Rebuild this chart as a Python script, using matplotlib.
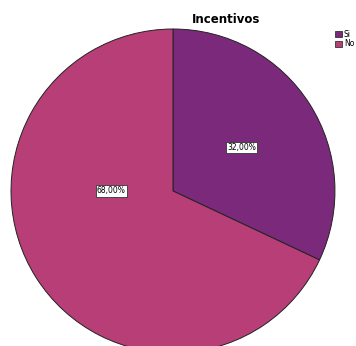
import matplotlib.pyplot as plt
from matplotlib.patches import Patch

# datos
labels = ['Si', 'No']
values = [32.0, 68.0]
colors = ['#7B2A7B', '#B83E78']
title = 'Incentivos'

fig = plt.figure(figsize=(3.56, 3.46), dpi=100)
ax = fig.add_axes([0, 0, 1, 1])

wedges, texts, autotexts = ax.pie(
    values, colors=colors, startangle=90, counterclock=False,
    autopct=lambda p: f'{p:.2f}%'.replace('.', ','), pctdistance=0.5,
    wedgeprops=dict(edgecolor='#222222', linewidth=0.7),
    textprops=dict(fontsize=5.5))

for t in autotexts:
    t.set_bbox(dict(facecolor='white', edgecolor='#333333', linewidth=0.6, pad=1.0))
# SPSS pone la etiqueta de "No" a la altura del centro
autotexts[1].set_position((-0.38, 0.0))

ax.set_xlim(-1.068, 1.130)
ax.set_ylim(-0.957, 1.179)
ax.set_aspect('equal')
ax.axis('off')

fig.text(0.635, 0.945, title, ha='center', va='center', fontsize=8.5, fontweight='bold')

handles = [Patch(facecolor=c, edgecolor='#333333', linewidth=0.6) for c in colors]
fig.legend(handles, labels, loc='upper right', bbox_to_anchor=(1.01, 0.93),
           frameon=False, fontsize=5.5, handlelength=0.8, handleheight=0.8,
           handletextpad=0.3, labelspacing=0.1, borderpad=0.2)

fig.savefig('out.png', dpi=100)
